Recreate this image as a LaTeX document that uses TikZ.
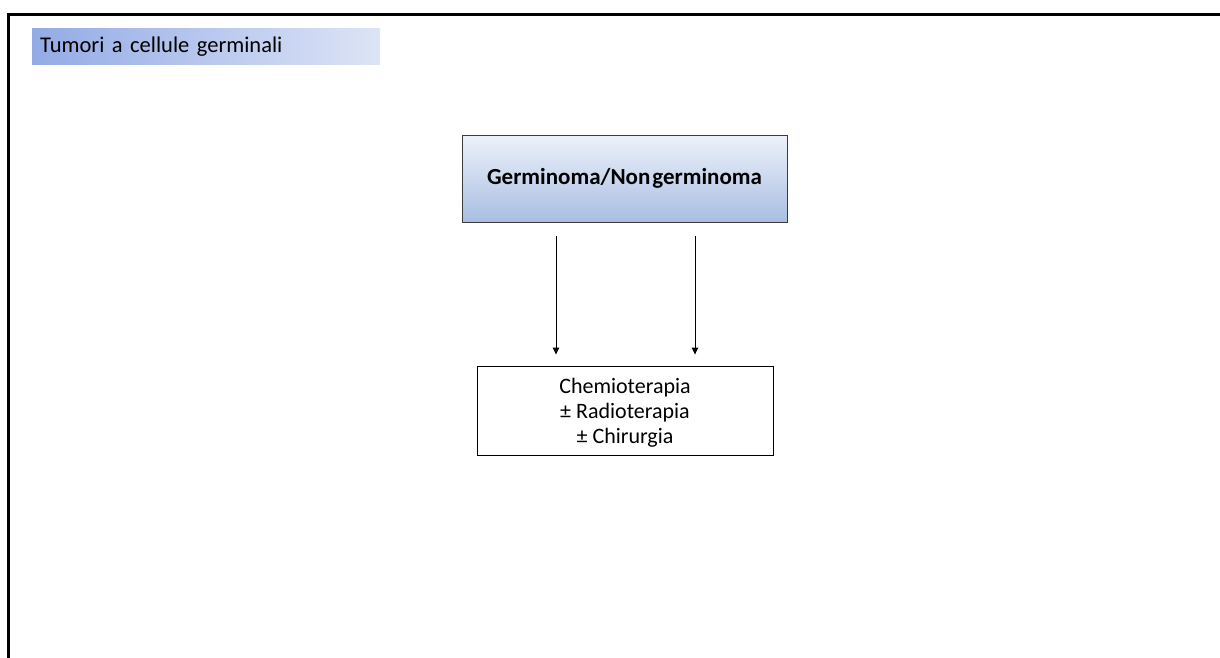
\documentclass[tikz,border=0pt]{standalone}
\usepackage{fontspec}
\setmainfont{Carlito}
\usetikzlibrary{arrows.meta,calc}
\definecolor{titleL}{HTML}{93ABE5}
\definecolor{titleR}{HTML}{DDE4F6}
\definecolor{boxT}{HTML}{EDF1FA}
\definecolor{boxB}{HTML}{A8BEE2}
\definecolor{boxline}{HTML}{3C3C3C}
\newcommand{\mytitlefont}{\fontsize{22.5}{26}\selectfont}
\newcommand{\myresfont}{\fontsize{22}{25}\selectfont}
\tikzset{
  frame/.style={line width=3pt,line cap=rect},
  titlebox/.style={anchor=north west,minimum width=348pt,minimum height=36pt,inner xsep=8pt,
    left color=titleL,right color=titleR,draw=none,text width=332pt,align=left,
    font=\mytitlefont},
  headbox/.style={minimum width=325pt,minimum height=87pt,draw=boxline,line width=0.9pt,
    top color=boxT,bottom color=boxB,font=\fontsize{23}{27}\selectfont\bfseries},
  resbox/.style={minimum width=296pt,minimum height=89pt,draw=black,line width=0.9pt,fill=white,
    align=center,font=\myresfont},
  arr/.style={line width=0.9pt,-{Triangle[length=7pt,width=6.5pt]}}
}
\begin{document}
\begin{tikzpicture}[x=1pt,y=-1pt]
\useasboundingbox (0,0) rectangle (1220,657);
\fill[white] (0,0) rectangle (1220,657);
\coordinate (fbl) at (8.5,657);
\coordinate (ftl) at (8.5,14);
\coordinate (ftr) at (1220,14);
\draw[frame] (fbl) -- (ftl) -- (ftr);
\node[titlebox] (title) at (32,28) {Tumori a cellule germinali};
\node[headbox] (germ) at (624.5,178.5) {Germinoma/Non\hspace{2pt}germinoma};
\node[resbox] (res) at (625,410.5) {};
\node[align=center,font=\myresfont,inner sep=0pt] (restext) at ([yshift=-2]res.center) {Chemioterapia\\ ± Radioterapia\\ ± Chirurgia};
\draw[arr] ([shift={(-68.5,14)}]germ.south) -- ([shift={(-69,-11)}]res.north);
\draw[arr] ([shift={(70.5,14)}]germ.south) -- ([shift={(70,-11)}]res.north);
\end{tikzpicture}
\end{document}
